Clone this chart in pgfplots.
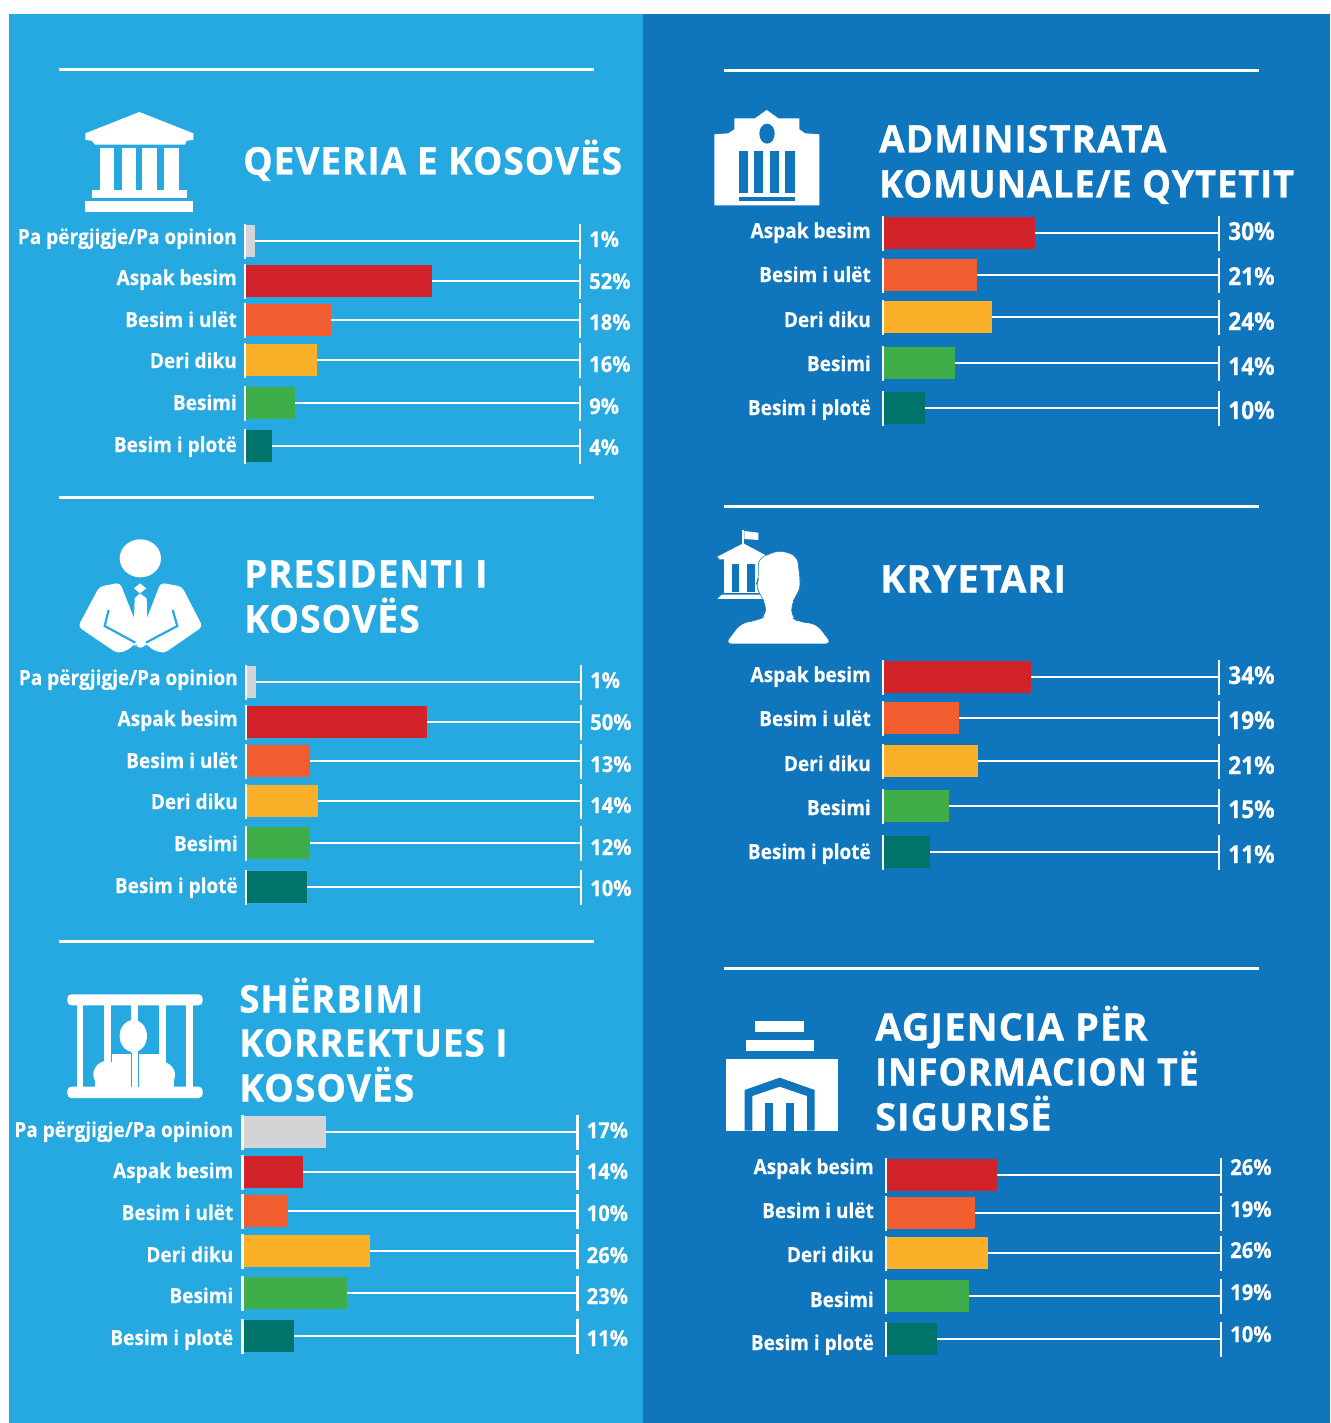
\documentclass[border=0pt]{standalone}
\usepackage{pgfplots}
\usepackage{pgfplotstable}
\usepackage{graphicx}
\pgfplotsset{compat=1.18}
\usepackage{fontspec}
\setmainfont{Open Sans}
\newfontfamily\labfont[FakeStretch=0.92,FakeBold=0.35]{Open Sans}
\newfontfamily\titfont[FakeStretch=0.97,FakeBold=0.7,LetterSpace=2.5]{Open Sans}
\definecolor{bgL}{HTML}{25A9E0}
\definecolor{bgR}{HTML}{0F75BC}
\definecolor{cGray}{HTML}{D3D4D5}
\definecolor{cRed}{HTML}{D2232A}
\definecolor{cOrange}{HTML}{F15D2F}
\definecolor{cAmber}{HTML}{FBB02A}
\definecolor{cGreen}{HTML}{3FAE49}
\definecolor{cTeal}{HTML}{00746B}

% y = row centre, len = drawn bar length, pcty / caty = label heights, pct = printed value
\pgfplotstableread[col sep=comma]{
y,len,pcty,caty,pct,cat
241,10,239,237,1,Pa përgjigje/Pa opinion
281,187,281,278,52,Aspak besim
320,86,322,320,18,Besim i ulët
360,72,364,361,16,Deri diku
403,50,406,403,9,Besimi
446,27,447,445,4,Besim i plotë
}\tabA
\pgfplotstableread[col sep=comma]{
y,len,pcty,caty,pct,cat
682,10,680,678,1,Pa përgjigje/Pa opinion
722,181,722,719,50,Aspak besim
761,64,764,761,13,Besim i ulët
801,72,805,802,14,Deri diku
843,64,847,844,12,Besimi
887,61,888,886,10,Besim i plotë
}\tabB
\pgfplotstableread[col sep=comma]{
y,len,pcty,caty,pct,cat
1132,83,1130,1130,17,Pa përgjigje/Pa opinion
1172,60,1171,1171,14,Aspak besim
1211,45,1213,1213,10,Besim i ulët
1251,127,1255,1255,26,Deri diku
1293,104,1296,1296,23,Besimi
1336,51,1338,1338,11,Besim i plotë
}\tabC
\pgfplotstableread[col sep=comma]{
y,len,pcty,caty,pct,cat
233,152,232,231,30,Aspak besim
275,94,277,275,21,Besim i ulët
317,109,322,320,24,Deri diku
363,72,367,364,14,Besimi
408,42,411,408,10,Besim i plotë
}\tabD
\pgfplotstableread[col sep=comma]{
y,len,pcty,caty,pct,cat
677,148,676,675,34,Aspak besim
718,76,721,719,19,Besim i ulët
761,95,766,764,21,Deri diku
806,66,810,808,15,Besimi
852,47,855,852,11,Besim i plotë
}\tabE
\pgfplotstableread[col sep=comma]{
y,len,pcty,caty,pct,cat
1175,111,1167,1167,26,Aspak besim
1213,89,1209,1211,19,Besim i ulët
1253,102,1250,1255,26,Deri diku
1296,83,1292,1300,19,Besimi
1339,51,1334,1343,10,Besim i plotë
}\tabF

\pgfplotsset{
  panel/.style={
    hide axis, scale only axis, clip=false, anchor=north west,
    y dir=reverse, xmin=0
  },
  seg/.style={draw=none, mark=none, forget plot,
    error bars/.cd, y dir=both, y fixed=17.5, error mark=none,
    error bar style={white, line width=2.6pt}}
}
\newcommand{\frameplots}[2]{%
  \addplot[xcomb, white, line width=2.6pt, mark=none, forget plot] table[x expr=#2, y=y] {#1};
  \addplot[seg] table[x expr=#2, y=y] {#1};
}
\newcommand{\leftseg}[1]{\addplot[seg] table[x expr=0, y=y] {#1};}
\newcommand{\rowbar}[3]{%
  \addplot[xbar, bar shift=0pt, bar width=32pt, draw=none, fill=#1, forget plot]
    table[x=len, y=y, skip coords between index={0}{#3}, skip coords between index={\numexpr#3+1\relax}{20}] {#2};
}
% #1 table, #2 axis length, #3 gap of category labels, #4 size of percent labels
\newcommand{\labelplots}[4]{%
  \addplot[draw=none, mark=none, forget plot, point meta=explicit symbolic,
    nodes near coords={\pgfplotspointmeta},
    nodes near coords style={anchor=base east, xshift=-#3pt, yshift=-7pt, text=white, inner sep=0pt,
      font=\labfont\bfseries\fontsize{20.7}{21}\selectfont}]
    table[x expr=0, y=caty, meta=cat] {#1};
  \addplot[draw=none, mark=none, forget plot, point meta=explicit symbolic,
    nodes near coords={\pgfplotspointmeta\%},
    nodes near coords style={anchor=base west, xshift=9pt, yshift=-8pt, text=white, inner sep=0pt,
      font=\labfont\bfseries\fontsize{#4}{21}\selectfont}]
    table[x expr=#2, y=pcty, meta=pct] {#1};
}
\newcommand{\sixbars}[1]{%
  \rowbar{cGray}{#1}{0}\rowbar{cRed}{#1}{1}\rowbar{cOrange}{#1}{2}
  \rowbar{cAmber}{#1}{3}\rowbar{cGreen}{#1}{4}\rowbar{cTeal}{#1}{5}}
\newcommand{\fivebars}[1]{%
  \rowbar{cRed}{#1}{0}\rowbar{cOrange}{#1}{1}
  \rowbar{cAmber}{#1}{2}\rowbar{cGreen}{#1}{3}\rowbar{cTeal}{#1}{4}}
\newcommand{\ttl}[4][1]{\node[anchor=base west, inner sep=0pt, text=white,
  font=\titfont\bfseries\fontsize{38}{38}\selectfont] at (#2,#3+13.5) {\scalebox{#1}[1]{#4}};}

\begin{document}
\begin{tikzpicture}
\begin{scope}[x=1pt,y=-1pt]
\path[use as bounding box] (0,0) rectangle (1330,1423);
\fill[white] (0,0) rectangle (1330,1423);
\fill[bgL] (9,14) rectangle (643,1423);
\fill[bgR] (643,14) rectangle (1330,1423);
% rules
\foreach \a in {69.5,497,941} \fill[white] (59,\a-1.5) rectangle (594,\a+1.5);
\foreach \a in {70.5,506,968.5} \fill[white] (724,\a-1.5) rectangle (1259,\a+1.5);
% titles
\ttl[1.005]{243}{161}{QEVERIA E KOSOVËS}
\ttl[1.007]{879}{139}{ADMINISTRATA}
\ttl[0.983]{879}{184}{KOMUNALE/E QYTETIT}
\ttl{244}{574}{PRESIDENTI I}
\ttl[1.015]{244}{619}{KOSOVËS}
\ttl[1.034]{880}{579}{KRYETARI}
\ttl{239}{999}{SHËRBIMI}
\ttl{239}{1043}{KORREKTUES I}
\ttl[1.012]{239}{1088}{KOSOVËS}
\ttl[1.038]{875}{1027}{AGJENCIA PËR}
\ttl[0.97]{875}{1072}{INFORMACION TË}
\ttl[1.03]{875}{1117}{SIGURISË}
\end{scope}

% icon 1: temple
\begin{scope}[shift={(0pt,-50pt)}, x=0.3333pt, y=-0.3333pt]
\fill[white] (418,186) -- (580,250) -- (580,270) -- (560,272) -- (555,284) -- (285,284) -- (275,272) -- (256,270) -- (256,250) -- cycle;
\foreach \a/\b in {299/343,365/409,427/471,493/537} \fill[white] (\a,293) rectangle (\b,422);
\fill[white] (276,421) rectangle (560,444);
\fill[white] (256,453) rectangle (580,486);
\end{scope}

% icon 2: official
\begin{scope}[shift={(60pt,-530pt)}, x=0.3333pt, y=-0.3333pt]
\fill[white] (241,85) ellipse [x radius=62, y radius=57];
\fill[white, rounded corners=4pt] (180,158) -- (118,170) -- (54,290) -- (172,370) -- (205,360) -- (228,338) -- (228,353) -- (255,353) -- (255,338) -- (278,360) -- (312,370) -- (428,290) -- (366,170) -- (302,158) -- (258,272) -- (225,272) -- cycle;
\fill[white] (222,175) -- (240,160) -- (259,175) -- (240,190) -- cycle;
\fill[white] (240,190) -- (224,205) -- (222,275) -- (262,275) -- (260,205) -- cycle;
\draw[bgL, line width=2.2pt] (146,240) -- (134,288) -- (226,338);
\draw[bgL, line width=2.2pt] (338,240) -- (352,288) -- (258,338);
\end{scope}

% icon 3: prisoner
\begin{scope}[shift={(50pt,-980pt)}, x=0.3333pt, y=-0.3333pt]
\fill[white, rounded corners=4pt] (52,43) rectangle (458,76);
\fill[white, rounded corners=4pt] (52,320) rectangle (458,354);
\foreach \a/\b in {80/100,162/182,243/263,327/347,408/428} \fill[white] (\a,70) rectangle (\b,325);
\fill[white] (250,168) ellipse [x radius=41, y radius=48];
\fill[white] (170,283) circle (40);
\fill[white] (335,285) circle (40);
\fill[white] (135,285) rectangle (373,322);
\fill[white] (185,222) rectangle (330,322);
\draw[bgL, line width=0.9pt] (243,220) -- (243,320);
\draw[bgL, line width=0.9pt] (265,220) -- (265,320);
\end{scope}

% icon 4: city hall
\begin{scope}[shift={(700pt,-100pt)}, x=0.3333pt, y=-0.3333pt]
\fill[white] (43,103) -- (85,100) -- (103,88) -- (103,55) -- (165,55) -- (200,30) -- (235,55) -- (298,55) -- (298,88) -- (315,100) -- (358,103) -- (358,316) -- (43,316) -- cycle;
\fill[bgR] (201,101) ellipse [x radius=23, y radius=30];
\foreach \a/\b in {118/145,163/190,209/236,254/284} \fill[bgR] (\a,153) rectangle (\b,279);
\fill[bgR] (118,291) rectangle (284,304);
\end{scope}

% icon 5: mayor
\begin{scope}[shift={(700pt,-520pt)}, x=0.3333pt, y=-0.3333pt]
\fill[white] (127,30) rectangle (133,75);
\fill[white] (133,33) -- (175,38) -- (175,60) -- (133,57) -- cycle;
\fill[white] (130,70) -- (205,110) -- (205,118) -- (58,118) -- (52,110) -- cycle;
\fill[white] (72,118) rectangle (190,218);
\fill[bgR] (97,133) rectangle (118,215);
\fill[bgR] (141,133) rectangle (164,215);
\fill[white] (52,237) -- (65,224) -- (190,224) -- (190,237) -- cycle;
\draw[bgR, line width=0.5pt, fill=white, rounded corners=7pt] (238,90) -- (292,108) -- (300,180) -- (304,195) -- (290,225) -- (275,250) -- (275,292) -- (295,305) -- (350,312) -- (396,372) -- (75,372) -- (122,310) -- (175,300) -- (197,288) -- (197,250) -- (180,225) -- (168,195) -- (176,175) -- (174,116) -- cycle;
\end{scope}

% icon 6: agency
\begin{scope}[shift={(710pt,-1010pt)}, x=0.3333pt, y=-0.3333pt]
\fill[white] (135,33) rectangle (282,66);
\fill[white] (108,90) rectangle (312,123);
\fill[white] (49,148) rectangle (385,362);
\fill[bgR] (104,240) -- (209,203) -- (314,240) -- (314,362) -- (291,362) -- (291,258) -- (209,230) -- (127,258) -- (127,362) -- (104,362) -- cycle;
\fill[bgR] (166,278) rectangle (189,362);
\fill[bgR] (228,278) rectangle (251,362);
\end{scope}

% charts
\begin{axis}[panel, at={(245pt,-220pt)}, width=335pt, height=250pt, xmax=335, ymin=220, ymax=470]
\frameplots{\tabA}{335}\sixbars{\tabA}\leftseg{\tabA}\labelplots{\tabA}{335}{8}{22}
\end{axis}
\begin{axis}[panel, at={(246pt,-660pt)}, width=335pt, height=250pt, xmax=335, ymin=660, ymax=910]
\frameplots{\tabB}{335}\sixbars{\tabB}\leftseg{\tabB}\labelplots{\tabB}{335}{8}{22}
\end{axis}
\begin{axis}[panel, at={(242.5pt,-1110pt)}, width=335pt, height=250pt, xmax=335, ymin=1110, ymax=1360]
\frameplots{\tabC}{335}\sixbars{\tabC}\leftseg{\tabC}\labelplots{\tabC}{335}{9}{22}
\end{axis}
\begin{axis}[panel, at={(883pt,-210pt)}, width=336pt, height=220pt, xmax=336, ymin=210, ymax=430]
\frameplots{\tabD}{336}\fivebars{\tabD}\leftseg{\tabD}\labelplots{\tabD}{336}{12}{24.7}
\end{axis}
\begin{axis}[panel, at={(883pt,-655pt)}, width=336pt, height=220pt, xmax=336, ymin=655, ymax=875]
\frameplots{\tabE}{336}\fivebars{\tabE}\leftseg{\tabE}\labelplots{\tabE}{336}{12}{24.7}
\end{axis}
\begin{axis}[panel, at={(886pt,-1150pt)}, width=335pt, height=210pt, xmax=335, ymin=1150, ymax=1360]
\frameplots{\tabF}{335}\fivebars{\tabF}\leftseg{\tabF}\labelplots{\tabF}{335}{12}{22}
\end{axis}
\end{tikzpicture}
\end{document}
